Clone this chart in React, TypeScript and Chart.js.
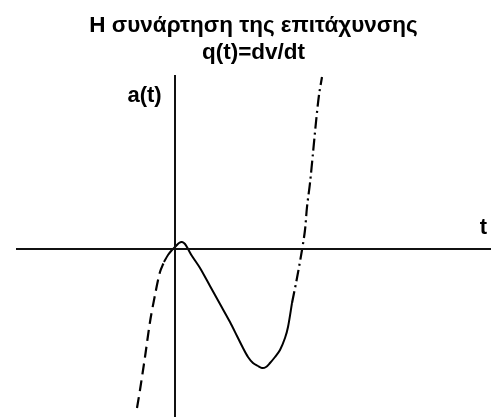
import React, { useEffect, useRef } from "react";
import { Chart, registerables } from "chart.js";

Chart.register(...registerables);

// Acceleration curve a(t), split into the three stroke styles used for it
const leftT = [-1.52, -1.4, -1.2, -1.0, -0.8, -0.6, -0.44];
const leftA = [-6.36, -5.64, -4.32, -2.92, -1.84, -0.92, -0.52];

const midT = [-0.44, -0.28, -0.12, 0.04, 0.16, 0.28, 0.4, 0.52, 0.68, 1.0, 1.4, 1.8, 2.2, 2.48, 2.72, 2.92, 3.12, 3.32, 3.48, 3.64, 3.8, 4.0, 4.2, 4.4, 4.52, 4.68];
const midA = [-0.52, -0.24, -0.04, 0.12, 0.24, 0.28, 0.2, 0.0, -0.28, -0.76, -1.48, -2.2, -2.92, -3.48, -3.96, -4.32, -4.56, -4.68, -4.76, -4.72, -4.56, -4.32, -4.04, -3.56, -3.12, -2.16];

const rightT = [4.68, 4.88, 5.08, 5.2, 5.28, 5.4, 5.52, 5.64, 5.76, 5.88];
const rightA = [-2.16, -1.16, -0.04, 0.76, 1.68, 2.64, 3.84, 5.08, 6.16, 6.88];

// Visible window of the t–a plane
const T_MIN = -6.36;
const T_MAX = 12.64;
const A_MIN = -6.72;
const A_MAX = 7.08;

// Coordinate axes drawn as plain lines through the origin
const tAxisT = [T_MIN, T_MAX];
const aAxisA = [6.96, A_MIN];

const TITLE = ["Η συνάρτηση της επιτάχυνσης", "q(t)=dv/dt"];
const A_LABEL = "a(t)";
const T_LABEL = "t";

const FONT = "'Liberation Sans', Arial, sans-serif";

const pts = (xs: number[], ys: number[]) => xs.map((x, i) => ({ x, y: ys[i] }));

const axisLabels = {
  id: "axisLabels",
  afterDatasetsDraw(chart: any) {
    const { ctx, scales } = chart;
    const x = scales.x;
    const y = scales.y;
    ctx.save();
    ctx.fillStyle = "#000";
    ctx.font = `bold 22px ${FONT}`;
    ctx.textAlign = "center";
    ctx.textBaseline = "middle";
    ctx.fillText(A_LABEL, x.getPixelForValue(-1.22), y.getPixelForValue(6.12));
    ctx.fillText(T_LABEL, x.getPixelForValue(12.34), y.getPixelForValue(0.84));
    ctx.restore();
  },
};

export default function App() {
  const ref = useRef<HTMLCanvasElement | null>(null);

  useEffect(() => {
    if (!ref.current) return;
    const line = (data: any[], dash: number[], width: number, color = "#000") => ({
      data,
      borderColor: color,
      borderWidth: width,
      borderDash: dash,
      pointRadius: 0,
      tension: 0.3,
      fill: false,
      showLine: true,
    });
    const chart = new Chart(ref.current, {
      type: "scatter",
      data: {
        datasets: [
          line(pts(tAxisT, [0, 0]), [], 2, "#111"),
          line(pts([0, 0], aAxisA), [], 2, "#111"),
          line(pts(leftT, leftA), [11, 6], 2.2),
          line(pts(midT, midA), [], 2),
          line(pts(rightT, rightA), [12, 4, 2, 4], 2.2),
        ],
      },
      options: {
        responsive: false,
        animation: false,
        layout: { padding: { left: 16, right: 0, top: 0, bottom: 0 } },
        plugins: {
          legend: { display: false },
          tooltip: { enabled: false },
          title: {
            display: true,
            text: TITLE,
            color: "#000",
            font: { family: FONT, size: 22.5, weight: "bold", lineHeight: 1.22 },
            padding: { top: 11.75, bottom: 5.35 },
          },
        },
        scales: {
          x: { type: "linear", min: T_MIN, max: T_MAX, display: false },
          y: { type: "linear", min: A_MIN, max: A_MAX, display: false },
        },
      },
      plugins: [axisLabels],
    });
    return () => chart.destroy();
  }, []);

  return (
    <div style={{ position: "fixed", left: 0, top: 0, width: 491, height: 417, background: "#fff" }}>
      <canvas ref={ref} width={491} height={417} style={{ display: "block" }} />
    </div>
  );
}
